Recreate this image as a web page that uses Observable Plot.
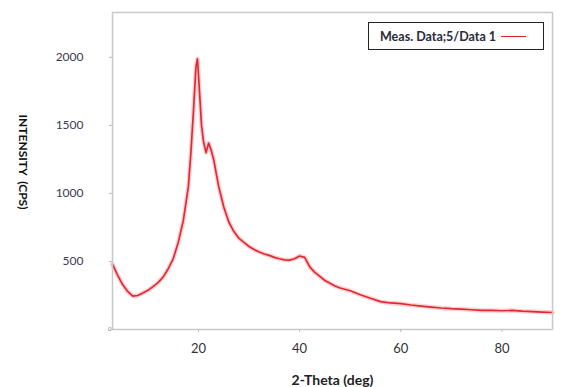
<!DOCTYPE html>
<html>
<head>
<meta charset="utf-8">
<script src="https://cdn.jsdelivr.net/npm/d3@7"></script>
<script src="https://cdn.jsdelivr.net/npm/@observablehq/plot@0.6"></script>
<style>
  html, body { margin: 0; padding: 0; background: #fff; }
  #wrap { position: relative; width: 561px; height: 387px; font-family: Lato, "Open Sans", sans-serif; }
  #legend { position: absolute; left: 368px; top: 22px; width: 176px; height: 28px; border: 1.5px solid #222; box-sizing: border-box; background: #fff;
    font-size: 12.5px; font-weight: bold; color: #2a2a3a; display: flex; align-items: center; padding-left: 11px; }
  #legend .sw { display: inline-block; width: 25px; height: 0; border-top: 1.5px solid #e0202a; margin-left: 5px; }
</style>
</head>
<body>
<div id="wrap"><div id="legend"><span id="legtext"></span><span class="sw"></span></div></div>
<script>
// 2-theta (deg)
const theta = [3, 4, 5, 6, 7, 8, 9, 10, 11, 12, 13, 14, 15, 16, 17, 18, 18.5, 19, 19.5, 19.8, 20.2, 20.6, 21, 21.5, 22, 22.5, 23, 23.5, 24, 25, 26, 27, 28, 29, 30, 31, 32, 33, 34, 35, 36, 37, 38, 39, 40, 41, 42, 43, 44, 45, 46, 47, 48, 50, 52, 54, 56, 58, 60, 62, 64, 66, 68, 70, 72, 74, 76, 78, 80, 82, 84, 86, 88, 90];
// intensity (cps)
const intensity = [480, 400, 330, 280, 245, 250, 268, 288, 315, 345, 385, 445, 520, 640, 800, 1050, 1300, 1600, 1930, 1990, 1750, 1500, 1380, 1300, 1370, 1320, 1250, 1150, 1050, 900, 790, 720, 670, 640, 610, 588, 570, 555, 545, 530, 520, 512, 510, 520, 540, 530, 460, 420, 390, 360, 340, 320, 305, 285, 255, 230, 205, 195, 190, 180, 172, 165, 158, 153, 150, 145, 140, 140, 138, 140, 135, 132, 128, 125];
const xTicks = [20, 40, 60, 80];
const yTicks = [500, 1000, 1500, 2000];
const yZero = [0];
const xLabel = "2-Theta (deg)";
const yLabel = "INTENSITY  (CPS)";
const seriesName = "Meas. Data;5/Data 1";

const data = theta.map((t, i) => ({theta: t, cps: intensity[i]}));
const red = "#e0202a";
const fmt = d => String(d);

const chart = Plot.plot({
  width: 561,
  height: 387,
  marginLeft: 112,
  marginRight: 9,
  marginTop: 12,
  marginBottom: 58,
  style: {fontFamily: "Lato, 'Open Sans', sans-serif", background: "#fff"},
  x: {domain: [3, 90], axis: null},
  y: {domain: [0, 2330], axis: null},
  marks: [
    Plot.line(data, {x: "theta", y: "cps", stroke: red, strokeWidth: 4.5, strokeOpacity: 0.2}),
    Plot.line(data, {x: "theta", y: "cps", stroke: red, strokeWidth: 1.7, strokeOpacity: 0.95}),
    Plot.frame({stroke: "#c8c8c8", strokeWidth: 1.5}),
    Plot.axisX({ticks: xTicks, tickFormat: fmt, tickSize: 3, tickPadding: 11, fontSize: 13, stroke: "#bbb", color: "#333", label: null}),
    Plot.axisX({ticks: [], label: xLabel, labelAnchor: "center", labelArrow: "none", labelOffset: 55, fontSize: 14, fontWeight: "bold", color: "#222"}),
    Plot.axisY({ticks: yTicks, tickFormat: fmt, tickSize: 3, tickPadding: 26, fontSize: 12, stroke: "#bbb", color: "#3a3a50", label: null}),
    Plot.axisY({ticks: yZero, tickFormat: fmt, tickSize: 0, tickPadding: 1, fontSize: 6, color: "#777", label: null}),
    Plot.text([yLabel], {text: d => d, frameAnchor: "left", textAnchor: "middle", rotate: 90, dx: -90, dy: -9, fontSize: 12, fontWeight: "bold", fill: "#111"})
  ]
});
const wrap = document.getElementById("wrap");
wrap.insertBefore(chart, wrap.firstChild);
document.getElementById("legtext").textContent = seriesName;
</script>
</body>
</html>
